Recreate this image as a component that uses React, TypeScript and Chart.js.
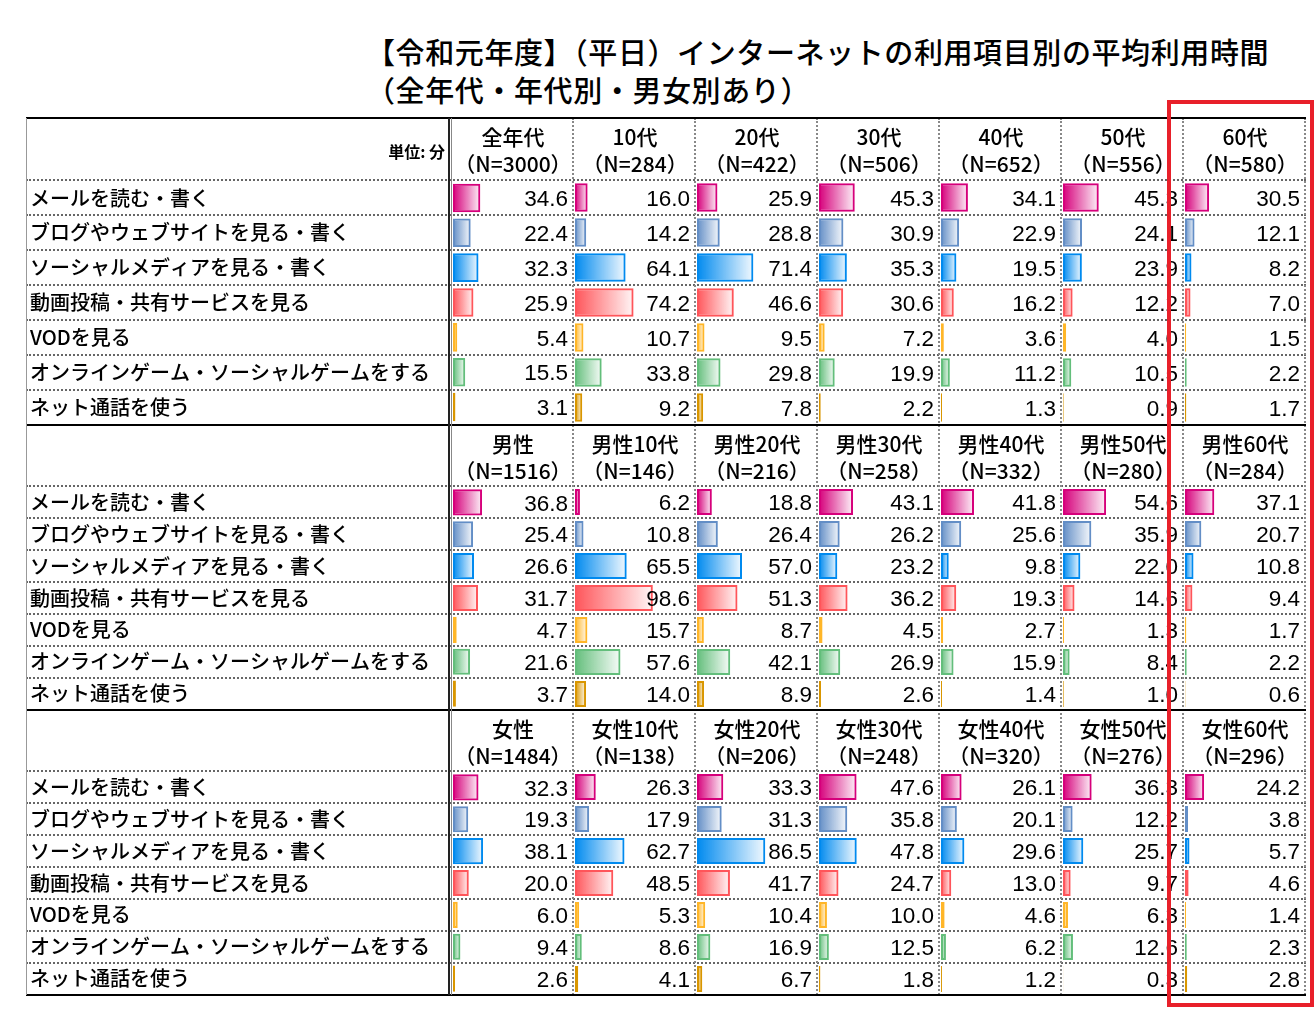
import React, { useEffect, useRef } from 'react';
import { Chart, registerables } from 'chart.js';

Chart.register(...registerables);

// ---------- data ----------
const categories = [
  'メールを読む・書く',
  'ブログやウェブサイトを見る・書く',
  'ソーシャルメディアを見る・書く',
  '動画投稿・共有サービスを見る',
  'VODを見る',
  'オンラインゲーム・ソーシャルゲームをする',
  'ネット通話を使う',
];

const titleLine1 = '【令和元年度】（平日）インターネットの利用項目別の平均利用時間';
const titleLine2 = '（全年代・年代別・男女別あり）';
const unitLabel = '単位: 分';

const allNames = ['全年代', '10代', '20代', '30代', '40代', '50代', '60代'];
const allN = [3000, 284, 422, 506, 652, 556, 580];
const allValues = [
  [34.6, 22.4, 32.3, 25.9, 5.4, 15.5, 3.1],
  [16.0, 14.2, 64.1, 74.2, 10.7, 33.8, 9.2],
  [25.9, 28.8, 71.4, 46.6, 9.5, 29.8, 7.8],
  [45.3, 30.9, 35.3, 30.6, 7.2, 19.9, 2.2],
  [34.1, 22.9, 19.5, 16.2, 3.6, 11.2, 1.3],
  [45.3, 24.1, 23.9, 12.2, 4.0, 10.5, 0.9],
  [30.5, 12.1, 8.2, 7.0, 1.5, 2.2, 1.7],
];

const maleNames = ['男性', '男性10代', '男性20代', '男性30代', '男性40代', '男性50代', '男性60代'];
const maleN = [1516, 146, 216, 258, 332, 280, 284];
const maleValues = [
  [36.8, 25.4, 26.6, 31.7, 4.7, 21.6, 3.7],
  [6.2, 10.8, 65.5, 98.6, 15.7, 57.6, 14.0],
  [18.8, 26.4, 57.0, 51.3, 8.7, 42.1, 8.9],
  [43.1, 26.2, 23.2, 36.2, 4.5, 26.9, 2.6],
  [41.8, 25.6, 9.8, 19.3, 2.7, 15.9, 1.4],
  [54.6, 35.9, 22.0, 14.6, 1.3, 8.4, 1.0],
  [37.1, 20.7, 10.8, 9.4, 1.7, 2.2, 0.6],
];

const femaleNames = ['女性', '女性10代', '女性20代', '女性30代', '女性40代', '女性50代', '女性60代'];
const femaleN = [1484, 138, 206, 248, 320, 276, 296];
const femaleValues = [
  [32.3, 19.3, 38.1, 20.0, 6.0, 9.4, 2.6],
  [26.3, 17.9, 62.7, 48.5, 5.3, 8.6, 4.1],
  [33.3, 31.3, 86.5, 41.7, 10.4, 16.9, 6.7],
  [47.6, 35.8, 47.8, 24.7, 10.0, 12.5, 1.8],
  [26.1, 20.1, 29.6, 13.0, 4.6, 6.2, 1.2],
  [36.3, 12.2, 25.7, 9.7, 6.3, 12.6, 0.3],
  [24.2, 3.8, 5.7, 4.6, 1.4, 2.3, 2.8],
];

const barColors = ['#D6007B', '#638EC6', '#008AEF', '#FF555A', '#FFB628', '#63BE7B', '#D99600'];

// ---------- layout ----------
const JP = '"Noto Sans CJK JP", "Noto Sans", sans-serif';
const NUM = '"Liberation Sans", Arial, sans-serif';
const tableLeft = 26;
const tableRight = 1306;
const labelColRight = 452;
const colW = 122;
const xMax = 152; // value span of a cell's bar area
const cellArea = 120;
const labelAxisW = 427;
const labelPad = 4;

const sections = [
  { top: 118, dataTop: 180, dataBottom: 425, names: allNames, ns: allN, values: allValues },
  { top: 425, dataTop: 486, dataBottom: 710, names: maleNames, ns: maleN, values: maleValues },
  { top: 710, dataTop: 771, dataBottom: 995, names: femaleNames, ns: femaleN, values: femaleValues },
];

function hexToRgba(hex: string, a: number) {
  const n = parseInt(hex.slice(1), 16);
  return `rgba(${(n >> 16) & 255},${(n >> 8) & 255},${n & 255},${a})`;
}

const valueTextPlugin = {
  id: 'valueText',
  afterDatasetsDraw(chart: any) {
    const ctx = chart.ctx;
    const ys = chart.scales.y;
    const area = chart.chartArea;
    const data = chart.data.datasets[0].data as number[];
    ctx.save();
    ctx.font = `22.5px ${NUM}`;
    ctx.fillStyle = '#000';
    ctx.textAlign = 'right';
    ctx.textBaseline = 'middle';
    data.forEach((v, i) => {
      ctx.fillText(v.toFixed(1), area.right - 5, ys.getPixelForValue(i) + 2);
    });
    ctx.restore();
  },
};

function CellChart(props: { values: number[]; withLabels: boolean; left: number; top: number; width: number; height: number }) {
  const ref = useRef<HTMLCanvasElement | null>(null);
  useEffect(() => {
    if (!ref.current) return;
    const yScale: any = {
      display: props.withLabels,
      grid: { display: false, drawTicks: false },
      border: { display: false },
      ticks: {
        crossAlign: 'far',
        autoSkip: false,
        padding: 0,
        color: '#000',
        font: { family: JP, size: 20, weight: '500', lineHeight: 0.05 },
      },
    };
    if (props.withLabels) {
      yScale.afterFit = (s: any) => {
        s.width = labelAxisW - labelPad;
      };
    }
    const chart = new Chart(ref.current, {
      type: 'bar',
      data: {
        labels: categories,
        datasets: [
          {
            data: props.values,
            backgroundColor: (c: any) => {
              const color = barColors[c.dataIndex % barColors.length];
              const ch = c.chart;
              if (!ch.chartArea || !ch.scales.x || c.type !== 'data') return color;
              const xs = ch.scales.x;
              const x0 = xs.getPixelForValue(0);
              const x1 = Math.max(xs.getPixelForValue(c.parsed.x), x0 + 1);
              const g = ch.ctx.createLinearGradient(x0, 0, x1, 0);
              g.addColorStop(0, color);
              g.addColorStop(1, hexToRgba(color, 0.05));
              return g;
            },
            borderColor: barColors,
            borderWidth: 2,
            borderSkipped: false,
            barPercentage: 0.82,
            categoryPercentage: 1,
          },
        ],
      },
      options: {
        indexAxis: 'y',
        animation: false,
        responsive: false,
        maintainAspectRatio: false,
        events: [],
        layout: { padding: { left: props.withLabels ? labelPad : 0, right: 0, top: 0, bottom: 0 } },
        plugins: { legend: { display: false }, tooltip: { enabled: false }, title: { display: false } },
        scales: {
          x: { display: false, min: 0, max: xMax },
          y: yScale,
        },
      },
      plugins: [valueTextPlugin],
    } as any);
    return () => chart.destroy();
  }, []);
  return (
    <canvas
      ref={ref}
      width={props.width}
      height={props.height}
      style={{ position: 'absolute', left: props.left, top: props.top, width: props.width, height: props.height }}
    />
  );
}

function Line(p: { l: number; t: number; w: number; h: number; style: React.CSSProperties }) {
  return <div style={{ position: 'absolute', left: p.l, top: p.t, width: p.w, height: p.h, ...p.style }} />;
}

export default function App() {
  const charts: React.ReactNode[] = [];
  const texts: React.ReactNode[] = [];
  const lines: React.ReactNode[] = [];

  sections.forEach((sec, si) => {
    const h = sec.dataBottom - sec.dataTop;
    sec.values.forEach((vals, ci) => {
      const cellLeft = labelColRight + 1 + ci * colW;
      if (ci === 0) {
        charts.push(
          <CellChart key={`c${si}-${ci}`} values={vals} withLabels={true} left={cellLeft - labelAxisW} top={sec.dataTop} width={labelAxisW + cellArea} height={h} />
        );
      } else {
        charts.push(
          <CellChart key={`c${si}-${ci}`} values={vals} withLabels={false} left={cellLeft} top={sec.dataTop} width={cellArea} height={h} />
        );
      }
      const cx = labelColRight + ci * colW + colW / 2;
      texts.push(
        <div key={`h${si}-${ci}`} style={{ position: 'absolute', left: cx - 61, width: 122, top: sec.top + 5, textAlign: 'center', fontFamily: JP, fontSize: 21, fontWeight: 500, lineHeight: '27px', color: '#000', whiteSpace: 'nowrap' }}>
          {sec.names[ci]}
          <br />
          {`（N=${sec.ns[ci]}）`}
        </div>
      );
    });
    const rowH = h / 7;
    for (let r = 0; r < 7; r++) {
      const y = Math.round(sec.dataTop + r * rowH) - 1;
      lines.push(<Line key={`r${si}-${r}`} l={tableLeft} t={y} w={tableRight - tableLeft} h={0} style={{ borderTop: '2px dotted #666' }} />);
    }
  });

  for (let ci = 1; ci <= 7; ci++) {
    const x = labelColRight + ci * colW - 1.5;
    lines.push(<Line key={`v${ci}`} l={Math.round(x) - 1} t={118} w={0} h={995 - 118} style={{ borderLeft: '2px dotted #888' }} />);
  }
  [117, 424, 709, 994].forEach((y, i) => {
    lines.push(<Line key={`b${i}`} l={tableLeft} t={y} w={tableRight - tableLeft} h={2} style={{ background: '#000' }} />);
  });
  lines.push(<Line key="lb" l={tableLeft} t={118} w={1} h={995 - 118} style={{ background: '#999' }} />);
  lines.push(<Line key="d1" l={448} t={118} w={2} h={995 - 118} style={{ background: '#222' }} />);
  lines.push(<Line key="d2" l={451} t={118} w={1} h={995 - 118} style={{ background: '#888' }} />);

  return (
    <div style={{ position: 'absolute', left: 0, top: 0, width: 1314, height: 1011, background: '#fff', overflow: 'hidden' }}>
      <div style={{ position: 'absolute', left: 366, top: 32, fontFamily: JP, fontSize: 29, fontWeight: 500, letterSpacing: '0.6px', lineHeight: '38px', color: '#000', whiteSpace: 'nowrap' }}>
        {titleLine1}
        <br />
        {titleLine2}
      </div>
      {charts}
      {lines}
      {texts}
      <div style={{ position: 'absolute', right: 1314 - 445, top: 140, fontFamily: JP, fontSize: 16, fontWeight: 700, color: '#000', whiteSpace: 'nowrap', lineHeight: '22px' }}>
        {unitLabel}
      </div>
      <div style={{ position: 'absolute', left: 1167, top: 100, width: 147, height: 907, boxSizing: 'border-box', border: '4.5px solid #E8202A' }} />
    </div>
  );
}
